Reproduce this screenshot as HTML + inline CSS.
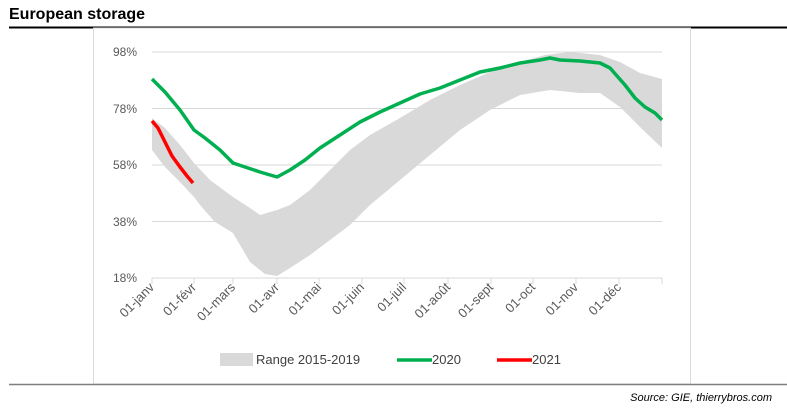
<!DOCTYPE html>
<html><head><meta charset="utf-8"><style>
body{margin:0;background:#fff;width:787px;height:409px;overflow:hidden;font-family:"Liberation Sans",sans-serif}
</style></head><body>
<svg width="787" height="409" xmlns="http://www.w3.org/2000/svg" font-family="Liberation Sans, sans-serif">
<text x="9" y="19" font-size="16" font-weight="bold" fill="#000">European storage</text>
<line x1="9" y1="27.5" x2="787" y2="27.5" stroke="#000" stroke-width="2"/>
<rect x="93.5" y="28" width="597" height="356" fill="none" stroke="#d9d9d9"/>
<line x1="9" y1="384.5" x2="787" y2="384.5" stroke="#7f7f7f" stroke-width="1.5"/>
<text x="772" y="401" font-size="11" font-style="italic" text-anchor="end" fill="#000">Source: GIE, thierrybros.com</text>
<g stroke="#d9d9d9" stroke-width="1">
<line x1="152" y1="52" x2="662" y2="52"/><line x1="152" y1="108.5" x2="662" y2="108.5"/>
<line x1="152" y1="165" x2="662" y2="165"/><line x1="152" y1="221.5" x2="662" y2="221.5"/>
<line x1="152" y1="278" x2="662" y2="278"/>
</g>
<g font-size="12" fill="#595959" text-anchor="end">
<text x="137" y="56">98%</text><text x="137" y="113">78%</text><text x="137" y="169">58%</text><text x="137" y="226">38%</text><text x="137" y="282">18%</text>
</g>
<polygon fill="#d9d9d9" points="152,118 165,128 180,145 194,163 210,180 233,197 250,208 260,215 270,212 277,210 290,205 310,190 330,170 350,150 370,135 400,118 430,100 460,85 490,72 520,62 545,55 570,52 600,55 620,62 640,73 662,79 662,148 640,127 620,107 600,93 580,93 550,90 520,95 490,110 460,130 430,155 400,180 370,205 350,225 330,240 310,255 290,268 277,276 265,274 250,262 233,233 215,222 200,205 194,197 180,182 165,167 152,150"/>
<polyline fill="none" stroke="#00b050" stroke-width="3.5" stroke-linejoin="round" points="152,79 165,92 180,110 194,130 205,138 220,150 233,163 245,167 260,172 277,177 290,170 305,160 320,148 340,135 360,122 380,112 400,103 420,94 440,88 460,80 480,72 500,68 520,63 540,60 550,58 560,60 580,61 600,63 610,68 625,85 635,98 645,107 655,113 662,120"/>
<polyline fill="none" stroke="#ff0000" stroke-width="3.5" stroke-linejoin="round" points="152,121 158,128 165,142 172,156 180,167 187,176 193,183"/>
<g stroke="#d9d9d9">
<line x1="152" y1="278" x2="152" y2="284"/><line x1="194" y1="278" x2="194" y2="284"/><line x1="233" y1="278" x2="233" y2="284"/><line x1="277" y1="278" x2="277" y2="284"/><line x1="319" y1="278" x2="319" y2="284"/><line x1="362" y1="278" x2="362" y2="284"/><line x1="404" y1="278" x2="404" y2="284"/><line x1="448" y1="278" x2="448" y2="284"/><line x1="491" y1="278" x2="491" y2="284"/><line x1="533" y1="278" x2="533" y2="284"/><line x1="576" y1="278" x2="576" y2="284"/><line x1="619" y1="278" x2="619" y2="284"/><line x1="662" y1="278" x2="662" y2="284"/>
</g>
<g font-size="13" fill="#595959" text-anchor="end">
<text transform="translate(155,288) rotate(-45)">01-janv</text>
<text transform="translate(197,288) rotate(-45)">01-févr</text>
<text transform="translate(236,288) rotate(-45)">01-mars</text>
<text transform="translate(280,288) rotate(-45)">01-avr</text>
<text transform="translate(322,288) rotate(-45)">01-mai</text>
<text transform="translate(365,288) rotate(-45)">01-juin</text>
<text transform="translate(407,288) rotate(-45)">01-juil</text>
<text transform="translate(451,288) rotate(-45)">01-août</text>
<text transform="translate(494,288) rotate(-45)">01-sept</text>
<text transform="translate(536,288) rotate(-45)">01-oct</text>
<text transform="translate(579,288) rotate(-45)">01-nov</text>
<text transform="translate(622,288) rotate(-45)">01-déc</text>
</g>
<rect x="220" y="353" width="33" height="13" fill="#d9d9d9"/>
<text x="256" y="364" font-size="13" fill="#404040">Range 2015-2019</text>
<line x1="397" y1="360" x2="432" y2="360" stroke="#00b050" stroke-width="3.5"/>
<text x="432" y="364" font-size="13" fill="#404040">2020</text>
<line x1="497" y1="360" x2="532" y2="360" stroke="#ff0000" stroke-width="3.5"/>
<text x="532" y="364" font-size="13" fill="#404040">2021</text>
</svg>
</body></html>
